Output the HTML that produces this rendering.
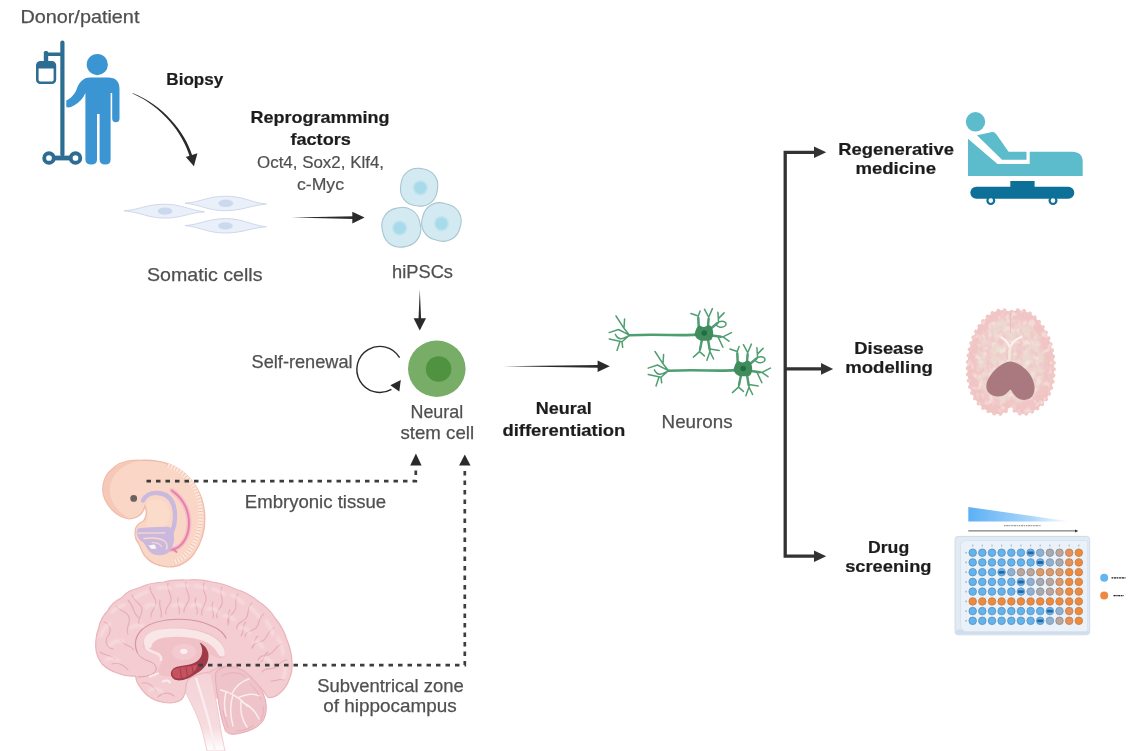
<!DOCTYPE html>
<html>
<head>
<meta charset="utf-8">
<title>hiPSC neural differentiation</title>
<style>
html,body{margin:0;padding:0;background:#fff;}
body{width:1140px;height:751px;overflow:hidden;font-family:"Liberation Sans",sans-serif;}
svg{display:block;}
svg text{font-family:"Liberation Sans",sans-serif;}
.t{fill:#505050;font-size:18.5px;stroke:#505050;stroke-width:0.25;}
.b{fill:#1e1e1e;font-size:17px;font-weight:bold;stroke:#1e1e1e;stroke-width:0.2;}
.s{fill:#505050;font-size:17px;stroke:#505050;stroke-width:0.2;}
.ln{stroke:#2a2a2a;stroke-width:2;fill:none;}
.dot{stroke:#3c3c3c;stroke-width:2.7;fill:none;stroke-dasharray:4.5 5;}
.ah{fill:#2a2a2a;}
</style>
</head>
<body>
<svg width="1140" height="751" viewBox="0 0 1140 751">
<defs>
  <filter id="b07" x="-20%" y="-20%" width="140%" height="140%"><feGaussianBlur stdDeviation="0.8"/></filter>
  <filter id="soft" filterUnits="userSpaceOnUse" x="0" y="0" width="1140" height="751"><feGaussianBlur stdDeviation="0.5"/></filter>
  <linearGradient id="gtri" x1="0" x2="1" y1="0" y2="0">
    <stop offset="0" stop-color="#5cb0f5"/><stop offset="0.6" stop-color="#a8d4fa"/><stop offset="1" stop-color="#ffffff"/>
  </linearGradient>
</defs>
<rect width="1140" height="751" fill="#ffffff"/>
<g id="all" filter="url(#soft)">

<!-- TEXT -->
<g id="labels">
<text class="t" x="20.4" y="23.4" textLength="119" lengthAdjust="spacingAndGlyphs">Donor/patient</text>
<text class="t" x="147" y="280.5" textLength="115.5" lengthAdjust="spacingAndGlyphs">Somatic cells</text>
<text class="t" x="392" y="278.2" textLength="61" lengthAdjust="spacingAndGlyphs">hiPSCs</text>
<text class="t" x="251.6" y="368" textLength="101" lengthAdjust="spacingAndGlyphs">Self-renewal</text>
<text class="t" x="410.5" y="418.3" textLength="52.7" lengthAdjust="spacingAndGlyphs">Neural</text>
<text class="t" x="400.4" y="438.5" textLength="73.7" lengthAdjust="spacingAndGlyphs">stem cell</text>
<text class="t" x="661.6" y="428.2" textLength="71" lengthAdjust="spacingAndGlyphs">Neurons</text>
<text class="t" x="244.8" y="507.7" textLength="141.4" lengthAdjust="spacingAndGlyphs">Embryonic tissue</text>
<text class="t" x="317.2" y="691.8" textLength="146.5" lengthAdjust="spacingAndGlyphs">Subventrical zone</text>
<text class="t" x="323.3" y="712" textLength="133.4" lengthAdjust="spacingAndGlyphs">of hippocampus</text>
<text class="s" x="257" y="168" textLength="127" lengthAdjust="spacingAndGlyphs">Oct4, Sox2, Klf4,</text>
<text class="s" x="297" y="189.5" textLength="47" lengthAdjust="spacingAndGlyphs">c-Myc</text>
<text class="b" x="166.3" y="85" textLength="57" lengthAdjust="spacingAndGlyphs">Biopsy</text>
<text class="b" x="250.5" y="123.4" textLength="139" lengthAdjust="spacingAndGlyphs">Reprogramming</text>
<text class="b" x="290.4" y="144.5" textLength="60.5" lengthAdjust="spacingAndGlyphs">factors</text>
<text class="b" x="535.8" y="414.2" textLength="56" lengthAdjust="spacingAndGlyphs">Neural</text>
<text class="b" x="502.4" y="436" textLength="123" lengthAdjust="spacingAndGlyphs">differentiation</text>
<text class="b" x="838.2" y="154.6" textLength="115.8" lengthAdjust="spacingAndGlyphs">Regenerative</text>
<text class="b" x="855.4" y="173.5" textLength="80.6" lengthAdjust="spacingAndGlyphs">medicine</text>
<text class="b" x="854.3" y="354.2" textLength="69.5" lengthAdjust="spacingAndGlyphs">Disease</text>
<text class="b" x="845.2" y="373" textLength="87.7" lengthAdjust="spacingAndGlyphs">modelling</text>
<text class="b" x="868" y="553.4" textLength="41.2" lengthAdjust="spacingAndGlyphs">Drug</text>
<text class="b" x="845.2" y="572" textLength="86.3" lengthAdjust="spacingAndGlyphs">screening</text>
</g>

<!-- IV POLE + PERSON -->
<g id="patient">
  <g fill="#2f6d92" stroke="none">
    <rect x="60.3" y="40.5" width="4.2" height="116" rx="2"/>
    <rect x="44" y="52.5" width="18" height="3.6" rx="1.5"/>
    <rect x="43.8" y="51" width="4.4" height="11" rx="1.6"/>
    <rect x="49" y="155.6" width="26" height="4.8"/>
  </g>
  <rect x="37.3" y="62.3" width="17.6" height="20.4" rx="3" fill="#ffffff" stroke="#2f6d92" stroke-width="2.6"/>
  <path d="M37.3 68.5 L37.3 65.3 Q37.3 62.3 40.3 62.3 L51.9 62.3 Q54.9 62.3 54.9 65.3 L54.9 68.5 Z" fill="#2f6d92"/>
  <circle cx="49" cy="158" r="4.8" fill="#ffffff" stroke="#2f6d92" stroke-width="3.9"/>
  <circle cx="75.5" cy="158" r="4.8" fill="#ffffff" stroke="#2f6d92" stroke-width="3.9"/>
  <g fill="#3a95d2">
    <circle cx="97.3" cy="64.6" r="10.6"/>
    <!-- torso + legs + right arm -->
    <path d="M90 77.5 L108 77.5 Q119.5 77.5 119.5 89 L119.5 118.5 Q119.5 122.3 115.8 122.3 Q112.2 122.3 112.2 118.5 L112.2 93 L110.6 93 L110.6 159.5 Q110.6 164.5 105.4 164.5 Q99.6 164.5 99.6 159.5 L99.6 114 L97 114 L97 159.5 Q97 164.5 91.2 164.5 Q85.4 164.5 85.4 159.5 L85.4 93 Q82 101 74 105.5 Q69 108.3 66.3 107 L66.3 100.5 Q72 98 76 91 Q80 77.5 90 77.5 Z"/>
  </g>
</g>

<!-- SOMATIC CELLS -->
<g id="somatic" fill="#eaf0f9" stroke="#cbd4e8" stroke-width="0.9">
  <path d="M124 210.800 C140 209.500 147 204.300 164 204.200 C181 204.100 189 210 204.500 211.800 C189 212.700 182 218 165 218.100 C148 218.200 141 212.300 124 210.800 Z"/>
  <path d="M185.100 203.200 C201 202 208 196.300 225.400 196.200 C243 196.100 251 202.500 266.400 204.100 C251 205.200 243 210.600 225.400 210.700 C208 210.800 201 204.800 185.100 203.200 Z"/>
  <path d="M185.100 225.600 C201 224.400 208 218.700 225.400 218.600 C243 218.500 251 225.200 266.400 226.800 C251 227.800 243 232.900 225.400 233 C208 233.100 201 227.200 185.100 225.600 Z"/>
  <g fill="#cbd9ef" stroke="none">
    <ellipse cx="165" cy="211.100" rx="7.400" ry="3.700"/>
    <ellipse cx="225.800" cy="203.300" rx="7.400" ry="3.700"/>
    <ellipse cx="225.400" cy="225.900" rx="7.400" ry="3.700"/>
  </g>
</g>

<!-- hiPSCs -->
<g id="hipsc">
  <g fill="#d3eaf2" stroke="#a8c6d0" stroke-width="1.1">
    <rect x="400.700" y="168.500" width="36.800" height="37.400" rx="16.500" transform="rotate(8 419.1 187.2)"/>
    <rect x="382.200" y="207.600" width="38.200" height="39.400" rx="17.500" transform="rotate(-12 401.3 227.3)"/>
    <rect x="422" y="203.200" width="38.800" height="37.600" rx="17" transform="rotate(15 441.4 222)"/>
  </g>
  <g fill="#a8dbe9">
    <circle cx="420.300" cy="187.800" r="7.600" opacity="0.45"/>
    <circle cx="399.600" cy="228" r="7.600" opacity="0.45"/>
    <circle cx="441.500" cy="223.600" r="7.600" opacity="0.45"/>
    <circle cx="420.300" cy="187.800" r="6.100"/>
    <circle cx="399.600" cy="228" r="6.100"/>
    <circle cx="441.500" cy="223.600" r="6.100"/>
  </g>
</g>

<!-- NEURAL STEM CELL -->
<g id="nsc">
  <ellipse cx="436.8" cy="368.7" rx="28.8" ry="28.2" fill="#78ad67"/>
  <circle cx="438.6" cy="369" r="12.8" fill="#4f9240"/>
  <path d="M399.6 357.6 A23 23 0 1 0 391.4 389.3" fill="none" stroke="#2a2a2a" stroke-width="1.4"/>
  <path class="ah" d="M400.8 380 L399.3 391.4 L390.3 385.2 Z"/>
</g>

<!-- NEURONS -->
<g id="neurons">
  <g id="neuron">
    <g fill="none" stroke="#4f9e72" stroke-linecap="round" stroke-linejoin="round">
      <path stroke-width="2.6" d="M696 334.6 C680 336.2 660 333.6 629.5 335.2"/>
      <g stroke-width="1.5">
        <!-- axon terminal -->
        <path d="M629.5 335.2 L624 328.3 L616 316 M624 328.3 L624.6 319 M629.5 335.2 L618.4 329.5 L609.2 332.6 M629.5 335.2 C622 340 618 340 615.4 334.4 M629.5 335.2 L622 341.8 L609.2 339 M620 341.5 L617 350.4 M622 341.8 L622.7 347.3"/>
        <!-- dendrite roots (thicker) -->
        <path stroke-width="2.4" d="M698.8 327.500 L698.3 318 M708 326.500 L708.600 319 M711.500 328 L717.500 323 M712 335.500 L721 336.700 M702 339.500 L700 349.500 M708 339.500 L709.700 349.500"/>
        <!-- dendrites -->
        <path d="M698.5 326.5 L698.3 316 L690.9 313.5 M698.3 316 L700.1 311"/>
        <path d="M708.1 325.5 L708.7 317.2 L704.4 309.2 M708.7 317.2 L712.4 308.6"/>
        <path d="M712 327.5 L718.6 322.1 L717.9 312.3 M718.6 318.4 L724.1 312.9 M718.6 322.1 C724 320 728 323 725 326 C722 328.5 718 327 716 325"/>
        <path d="M712.5 335.6 L722.9 336.9 L731.4 332.6 M722.9 336.9 L729 341.2 M717.9 336.6 L722.9 347.3"/>
        <path d="M702 340 L699.5 351.6 L693.4 357.1 M699.5 351.6 L704.4 355.9"/>
        <path d="M708.1 340 L710 351.6 L706.9 360.2 M710 351.6 L713.6 359 M710 349.1 L719.2 350.4"/>
      </g>
    </g>
    <path d="M694.5 334.5 C696 329 697 325.5 700 325.5 C702 327.5 705 327.5 708 325 C711 325 712.5 328 713 331 C713.5 334 713 337 711.5 339.5 C709 341.5 706 340.5 703.5 340.8 C700 341 696 339 694.5 334.5 Z" fill="#3f8c5c"/>
    <circle cx="704.2" cy="333" r="2.8" fill="#1f7040"/>
  </g>
  <use href="#neuron" x="39" y="35.5"/>
</g>

<!-- BED -->
<g id="bed">
  <circle cx="975.5" cy="121.8" r="9.7" fill="#5cbccb"/>
  <path fill="#5cbccb" d="M968 138.7 L997.5 164 L1029.7 164 L1029.7 151.7 L1072 151.7 Q1082.7 151.7 1082.7 162 L1082.7 176 L968 176 Z"/>
  <path fill="#5cbccb" d="M977 135.2 L991 132.2 Q994.5 131.5 996.5 134.5 L1008.6 151.7 L1026.5 151.7 L1026.5 159.8 L1002 159.8 Z"/>
  <rect x="970.3" y="186.8" width="104" height="12" rx="6" fill="#0f6f98"/>
  <rect x="1010.3" y="181" width="24.3" height="8" fill="#0f6f98"/>
  <circle cx="990.8" cy="200.6" r="3.4" fill="#ffffff" stroke="#0f6f98" stroke-width="2.2"/>
  <circle cx="1053" cy="200.6" r="3.4" fill="#ffffff" stroke="#0f6f98" stroke-width="2.2"/>
</g>

<!-- AXIAL BRAIN -->
<g id="axial">
  <defs>
    <clipPath id="axclip"><path d="M1010.5 312.5 C1006 309 998 309.5 991.5 313.5 C981 320.5 973 334 969.7 348.5 C966.3 362.5 966.8 378 971 390.5 C975 401.5 982.5 409.5 992 413 C999 415.5 1008.5 414 1010.5 402.5 C1012.5 414 1022 415.5 1029 413 C1038.500 409.5 1046.500 401.5 1050.500 390.5 C1054.700 378 1055.200 362.5 1051.800 348.5 C1048.500 334 1040.500 320.5 1030 313.5 C1023.500 309.5 1015 309 1010.5 312.5 Z" /></clipPath>
    <filter id="mottle" x="0" y="0" width="100%" height="100%">
      <feTurbulence type="fractalNoise" baseFrequency="0.13 0.11" numOctaves="2" seed="11" result="n"/>
      <feColorMatrix in="n" type="matrix" values="0 0 0 0 0.89  0 0 0 0 0.56  0 0 0 0 0.58  5 0 0 0 -2.1"/>
      <feGaussianBlur stdDeviation="0.7"/>
    </filter>
    <filter id="mottle2" x="0" y="0" width="100%" height="100%">
      <feTurbulence type="fractalNoise" baseFrequency="0.17 0.15" numOctaves="2" seed="23" result="n"/>
      <feColorMatrix in="n" type="matrix" values="0 0 0 0 0.95  0 0 0 0 0.87  0 0 0 0 0.83  0 4 0 0 -2.05"/>
      <feGaussianBlur stdDeviation="0.6"/>
    </filter>
    <filter id="b1"><feGaussianBlur stdDeviation="1.6"/></filter>
  </defs>
  <path d="M1010.5 312.5 C1006 309 998 309.5 991.5 313.5 C981 320.5 973 334 969.7 348.5 C966.3 362.5 966.8 378 971 390.5 C975 401.5 982.5 409.5 992 413 C999 415.5 1008.5 414 1010.5 402.5 C1012.5 414 1022 415.5 1029 413 C1038.500 409.5 1046.500 401.5 1050.500 390.5 C1054.700 378 1055.200 362.5 1051.800 348.5 C1048.500 334 1040.500 320.5 1030 313.5 C1023.500 309.5 1015 309 1010.5 312.5 Z" fill="#efc5c2" stroke="#f0c8c5" stroke-width="3.8" stroke-dasharray="0.1 6.2" stroke-linecap="round"/>
  <g clip-path="url(#axclip)">
    <path d="M1010.5 321 C1005 317 998 319 992.500 324 C984 332 979 343 977.500 355 C975.500 367 977 379 981.500 388 C985 395 990 401 996 403 C1002 404.500 1007 402 1010.5 397 C1014 402 1019 404.500 1025 403 C1031 401 1036 395 1039.500 388 C1044 379 1045.500 367 1043.500 355 C1042 343 1037 332 1028.500 324 C1023 319 1016 317 1010.5 321 Z" fill="#ecd8cf" filter="url(#b1)"/>
    <rect x="960" y="300" width="100" height="120" filter="url(#mottle)" opacity="0.8"/>
    <rect x="960" y="300" width="100" height="120" filter="url(#mottle2)" opacity="0.5"/>
  </g>
  <path d="M1010.5 313 L1010.5 333" stroke="#e8b3b3" stroke-width="1" opacity="0.6"/>
  <path d="M1001.5 337.5 C1005 339.500 1008.5 343.5 1010 348 C1011.5 343.5 1016 339 1021.5 336.800" fill="none" stroke="#fcf1ee" stroke-width="2.300" stroke-linecap="round"/>
  <path d="M1010 347 C1009 352 1009.5 356 1009.300 360.500" fill="none" stroke="#f8e6e2" stroke-width="2.200" stroke-linecap="round"/>
  <path d="M1006.500 349 C1006.800 353 1007 357 1008 360 M1013 349 C1012.700 353 1012.500 357 1011.500 360" fill="none" stroke="#eec0bd" stroke-width="0.800"/>
  <path d="M1010 361.600 C1003 362.500 996 368 990.800 375 C985.800 381.500 985 388.500 988.500 392.500 C993 397.500 1002 397.600 1006.500 393.500 C1008.500 391.500 1009.500 390 1010.5 389.500 C1012 391 1014 395.500 1018 398.300 C1023 401.200 1030 400.200 1033 395 C1036 389.500 1034.500 381 1030 374.500 C1025 367.500 1017.500 362.300 1010 361.600 Z" fill="#a9797f"/>
</g>

<!-- WELL PLATE -->
<g id="plate">
  <path d="M968.3 507 L968.3 521.5 L1070.6 521.5 Z" fill="url(#gtri)"/>
  <path d="M1004 525.7 L1041 525.7" stroke="#555" stroke-width="0.9" stroke-dasharray="1.6 0.7 2.4 0.6 1.2 0.8" opacity="0.8"/>
  <path d="M968.3 530.9 L1076 530.9" stroke="#333" stroke-width="0.8"/>
  <path d="M1075 529.4 L1078.3 530.9 L1075 532.4 Z" fill="#333"/>
  <rect x="955.1" y="536.4" width="134.6" height="98.4" rx="3" fill="#e2ebf4" stroke="#cddbe9" stroke-width="1"/>
  <rect x="956" y="629.5" width="132.8" height="4.6" rx="2" fill="#d0deec"/>
  <path d="M964.5 540.5 L1086 540.5 Q1087.6 540.5 1087.6 542 L1087.6 630 Q1087.6 631.6 1086 631.6 L964.5 631.6 L960.5 627.5 L960.5 544.5 Z" fill="#eaf1f8" stroke="#d3dfec" stroke-width="0.8"/>
  <g id="wells"><rect x="972.1" y="544.6" width="1.2" height="1.8" fill="#8aa0b8" opacity="0.7"/><rect x="981.7" y="544.6" width="1.2" height="1.8" fill="#8aa0b8" opacity="0.7"/><rect x="991.4" y="544.6" width="1.2" height="1.8" fill="#8aa0b8" opacity="0.7"/><rect x="1001.0" y="544.6" width="1.2" height="1.8" fill="#8aa0b8" opacity="0.7"/><rect x="1010.7" y="544.6" width="1.2" height="1.8" fill="#8aa0b8" opacity="0.7"/><rect x="1020.3" y="544.6" width="1.2" height="1.8" fill="#8aa0b8" opacity="0.7"/><rect x="1030.0" y="544.6" width="1.2" height="1.8" fill="#8aa0b8" opacity="0.7"/><rect x="1039.6" y="544.6" width="1.2" height="1.8" fill="#8aa0b8" opacity="0.7"/><rect x="1049.3" y="544.6" width="1.2" height="1.8" fill="#8aa0b8" opacity="0.7"/><rect x="1058.9" y="544.6" width="1.2" height="1.8" fill="#8aa0b8" opacity="0.7"/><rect x="1068.6" y="544.6" width="1.2" height="1.8" fill="#8aa0b8" opacity="0.7"/><rect x="1078.2" y="544.6" width="1.2" height="1.8" fill="#8aa0b8" opacity="0.7"/><rect x="965.2" y="551.9" width="1.6" height="1.6" fill="#8aa0b8" opacity="0.7"/><rect x="965.2" y="561.6" width="1.6" height="1.6" fill="#8aa0b8" opacity="0.7"/><rect x="965.2" y="571.4" width="1.6" height="1.6" fill="#8aa0b8" opacity="0.7"/><rect x="965.2" y="581.1" width="1.6" height="1.6" fill="#8aa0b8" opacity="0.7"/><rect x="965.2" y="590.8" width="1.6" height="1.6" fill="#8aa0b8" opacity="0.7"/><rect x="965.2" y="600.6" width="1.6" height="1.6" fill="#8aa0b8" opacity="0.7"/><rect x="965.2" y="610.3" width="1.6" height="1.6" fill="#8aa0b8" opacity="0.7"/><rect x="965.2" y="620.0" width="1.6" height="1.6" fill="#8aa0b8" opacity="0.7"/><circle cx="972.7" cy="552.7" r="3.75" fill="#62b4ee" stroke="#5f93c0" stroke-width="0.9"/><circle cx="982.3" cy="552.7" r="3.75" fill="#62b4ee" stroke="#5f93c0" stroke-width="0.9"/><circle cx="992.0" cy="552.7" r="3.75" fill="#62b4ee" stroke="#5f93c0" stroke-width="0.9"/><circle cx="1001.6" cy="552.7" r="3.75" fill="#62b4ee" stroke="#5f93c0" stroke-width="0.9"/><circle cx="1011.3" cy="552.7" r="3.75" fill="#62b4ee" stroke="#5f93c0" stroke-width="0.9"/><circle cx="1020.9" cy="552.7" r="3.75" fill="#62b4ee" stroke="#5f93c0" stroke-width="0.9"/><circle cx="1030.6" cy="552.7" r="3.75" fill="#62b4ee" stroke="#5f93c0" stroke-width="0.9"/><rect x="1027.6" y="551.4" width="6" height="2.8" rx="1" fill="#1d5a9a" opacity="0.85"/><circle cx="1040.2" cy="552.7" r="3.75" fill="#8fb1d2" stroke="#7f98b5" stroke-width="0.9"/><circle cx="1049.9" cy="552.7" r="3.75" fill="#a9abb2" stroke="#8d8f99" stroke-width="0.9"/><circle cx="1059.5" cy="552.7" r="3.75" fill="#c0a698" stroke="#8d8f99" stroke-width="0.9"/><circle cx="1069.2" cy="552.7" r="3.75" fill="#e8905a" stroke="#c0814f" stroke-width="0.9"/><circle cx="1078.8" cy="552.7" r="3.75" fill="#ef8a3c" stroke="#c0814f" stroke-width="0.9"/><circle cx="972.7" cy="562.4" r="3.75" fill="#62b4ee" stroke="#5f93c0" stroke-width="0.9"/><circle cx="982.3" cy="562.4" r="3.75" fill="#62b4ee" stroke="#5f93c0" stroke-width="0.9"/><circle cx="992.0" cy="562.4" r="3.75" fill="#62b4ee" stroke="#5f93c0" stroke-width="0.9"/><circle cx="1001.6" cy="562.4" r="3.75" fill="#62b4ee" stroke="#5f93c0" stroke-width="0.9"/><circle cx="1011.3" cy="562.4" r="3.75" fill="#62b4ee" stroke="#5f93c0" stroke-width="0.9"/><circle cx="1020.9" cy="562.4" r="3.75" fill="#62b4ee" stroke="#5f93c0" stroke-width="0.9"/><circle cx="1030.6" cy="562.4" r="3.75" fill="#62b4ee" stroke="#5f93c0" stroke-width="0.9"/><circle cx="1040.2" cy="562.4" r="3.75" fill="#62b4ee" stroke="#5f93c0" stroke-width="0.9"/><rect x="1037.2" y="561.1" width="6" height="2.8" rx="1" fill="#1d5a9a" opacity="0.85"/><circle cx="1049.9" cy="562.4" r="3.75" fill="#8fb1d2" stroke="#7f98b5" stroke-width="0.9"/><circle cx="1059.5" cy="562.4" r="3.75" fill="#a9abb2" stroke="#8d8f99" stroke-width="0.9"/><circle cx="1069.2" cy="562.4" r="3.75" fill="#e8905a" stroke="#c0814f" stroke-width="0.9"/><circle cx="1078.8" cy="562.4" r="3.75" fill="#ef8a3c" stroke="#c0814f" stroke-width="0.9"/><circle cx="972.7" cy="572.2" r="3.75" fill="#62b4ee" stroke="#5f93c0" stroke-width="0.9"/><circle cx="982.3" cy="572.2" r="3.75" fill="#62b4ee" stroke="#5f93c0" stroke-width="0.9"/><circle cx="992.0" cy="572.2" r="3.75" fill="#62b4ee" stroke="#5f93c0" stroke-width="0.9"/><circle cx="1001.6" cy="572.2" r="3.75" fill="#62b4ee" stroke="#5f93c0" stroke-width="0.9"/><rect x="998.6" y="570.9" width="6" height="2.8" rx="1" fill="#1d5a9a" opacity="0.85"/><circle cx="1011.3" cy="572.2" r="3.75" fill="#8fb1d2" stroke="#7f98b5" stroke-width="0.9"/><circle cx="1020.9" cy="572.2" r="3.75" fill="#c0a698" stroke="#8d8f99" stroke-width="0.9"/><circle cx="1030.6" cy="572.2" r="3.75" fill="#c0a698" stroke="#8d8f99" stroke-width="0.9"/><circle cx="1040.2" cy="572.2" r="3.75" fill="#d99b72" stroke="#c0814f" stroke-width="0.9"/><circle cx="1049.9" cy="572.2" r="3.75" fill="#d99b72" stroke="#c0814f" stroke-width="0.9"/><circle cx="1059.5" cy="572.2" r="3.75" fill="#d99b72" stroke="#c0814f" stroke-width="0.9"/><circle cx="1069.2" cy="572.2" r="3.75" fill="#ef8a3c" stroke="#c0814f" stroke-width="0.9"/><circle cx="1078.8" cy="572.2" r="3.75" fill="#ef8a3c" stroke="#c0814f" stroke-width="0.9"/><circle cx="972.7" cy="581.9" r="3.75" fill="#62b4ee" stroke="#5f93c0" stroke-width="0.9"/><circle cx="982.3" cy="581.9" r="3.75" fill="#62b4ee" stroke="#5f93c0" stroke-width="0.9"/><circle cx="992.0" cy="581.9" r="3.75" fill="#62b4ee" stroke="#5f93c0" stroke-width="0.9"/><circle cx="1001.6" cy="581.9" r="3.75" fill="#62b4ee" stroke="#5f93c0" stroke-width="0.9"/><circle cx="1011.3" cy="581.9" r="3.75" fill="#62b4ee" stroke="#5f93c0" stroke-width="0.9"/><circle cx="1020.9" cy="581.9" r="3.75" fill="#62b4ee" stroke="#5f93c0" stroke-width="0.9"/><rect x="1017.9" y="580.6" width="6" height="2.8" rx="1" fill="#1d5a9a" opacity="0.85"/><circle cx="1030.6" cy="581.9" r="3.75" fill="#8fb1d2" stroke="#7f98b5" stroke-width="0.9"/><circle cx="1040.2" cy="581.9" r="3.75" fill="#a9abb2" stroke="#8d8f99" stroke-width="0.9"/><circle cx="1049.9" cy="581.9" r="3.75" fill="#c0a698" stroke="#8d8f99" stroke-width="0.9"/><circle cx="1059.5" cy="581.9" r="3.75" fill="#d99b72" stroke="#c0814f" stroke-width="0.9"/><circle cx="1069.2" cy="581.9" r="3.75" fill="#ef8a3c" stroke="#c0814f" stroke-width="0.9"/><circle cx="1078.8" cy="581.9" r="3.75" fill="#ef8a3c" stroke="#c0814f" stroke-width="0.9"/><circle cx="972.7" cy="591.6" r="3.75" fill="#62b4ee" stroke="#5f93c0" stroke-width="0.9"/><circle cx="982.3" cy="591.6" r="3.75" fill="#62b4ee" stroke="#5f93c0" stroke-width="0.9"/><circle cx="992.0" cy="591.6" r="3.75" fill="#62b4ee" stroke="#5f93c0" stroke-width="0.9"/><circle cx="1001.6" cy="591.6" r="3.75" fill="#62b4ee" stroke="#5f93c0" stroke-width="0.9"/><circle cx="1011.3" cy="591.6" r="3.75" fill="#62b4ee" stroke="#5f93c0" stroke-width="0.9"/><circle cx="1020.9" cy="591.6" r="3.75" fill="#62b4ee" stroke="#5f93c0" stroke-width="0.9"/><rect x="1017.9" y="590.3" width="6" height="2.8" rx="1" fill="#1d5a9a" opacity="0.85"/><circle cx="1030.6" cy="591.6" r="3.75" fill="#8fb1d2" stroke="#7f98b5" stroke-width="0.9"/><circle cx="1040.2" cy="591.6" r="3.75" fill="#a9abb2" stroke="#8d8f99" stroke-width="0.9"/><circle cx="1049.9" cy="591.6" r="3.75" fill="#c0a698" stroke="#8d8f99" stroke-width="0.9"/><circle cx="1059.5" cy="591.6" r="3.75" fill="#d99b72" stroke="#c0814f" stroke-width="0.9"/><circle cx="1069.2" cy="591.6" r="3.75" fill="#ef8a3c" stroke="#c0814f" stroke-width="0.9"/><circle cx="1078.8" cy="591.6" r="3.75" fill="#ef8a3c" stroke="#c0814f" stroke-width="0.9"/><circle cx="972.7" cy="601.4" r="3.75" fill="#ef8a3c" stroke="#c0814f" stroke-width="0.9"/><circle cx="982.3" cy="601.4" r="3.75" fill="#ef8a3c" stroke="#c0814f" stroke-width="0.9"/><circle cx="992.0" cy="601.4" r="3.75" fill="#ef8a3c" stroke="#c0814f" stroke-width="0.9"/><circle cx="1001.6" cy="601.4" r="3.75" fill="#ef8a3c" stroke="#c0814f" stroke-width="0.9"/><circle cx="1011.3" cy="601.4" r="3.75" fill="#ef8a3c" stroke="#c0814f" stroke-width="0.9"/><circle cx="1020.9" cy="601.4" r="3.75" fill="#ef8a3c" stroke="#c0814f" stroke-width="0.9"/><circle cx="1030.6" cy="601.4" r="3.75" fill="#ef8a3c" stroke="#c0814f" stroke-width="0.9"/><circle cx="1040.2" cy="601.4" r="3.75" fill="#ef8a3c" stroke="#c0814f" stroke-width="0.9"/><circle cx="1049.9" cy="601.4" r="3.75" fill="#ef8a3c" stroke="#c0814f" stroke-width="0.9"/><circle cx="1059.5" cy="601.4" r="3.75" fill="#ef8a3c" stroke="#c0814f" stroke-width="0.9"/><circle cx="1069.2" cy="601.4" r="3.75" fill="#ef8a3c" stroke="#c0814f" stroke-width="0.9"/><circle cx="1078.8" cy="601.4" r="3.75" fill="#ef8a3c" stroke="#c0814f" stroke-width="0.9"/><circle cx="972.7" cy="611.1" r="3.75" fill="#62b4ee" stroke="#5f93c0" stroke-width="0.9"/><circle cx="982.3" cy="611.1" r="3.75" fill="#62b4ee" stroke="#5f93c0" stroke-width="0.9"/><circle cx="992.0" cy="611.1" r="3.75" fill="#62b4ee" stroke="#5f93c0" stroke-width="0.9"/><circle cx="1001.6" cy="611.1" r="3.75" fill="#62b4ee" stroke="#5f93c0" stroke-width="0.9"/><circle cx="1011.3" cy="611.1" r="3.75" fill="#62b4ee" stroke="#5f93c0" stroke-width="0.9"/><circle cx="1020.9" cy="611.1" r="3.75" fill="#62b4ee" stroke="#5f93c0" stroke-width="0.9"/><circle cx="1030.6" cy="611.1" r="3.75" fill="#62b4ee" stroke="#5f93c0" stroke-width="0.9"/><circle cx="1040.2" cy="611.1" r="3.75" fill="#62b4ee" stroke="#5f93c0" stroke-width="0.9"/><circle cx="1049.9" cy="611.1" r="3.75" fill="#62b4ee" stroke="#5f93c0" stroke-width="0.9"/><rect x="1046.9" y="609.8" width="6" height="2.8" rx="1" fill="#1d5a9a" opacity="0.85"/><circle cx="1059.5" cy="611.1" r="3.75" fill="#8fb1d2" stroke="#7f98b5" stroke-width="0.9"/><circle cx="1069.2" cy="611.1" r="3.75" fill="#e8905a" stroke="#c0814f" stroke-width="0.9"/><circle cx="1078.8" cy="611.1" r="3.75" fill="#ef8a3c" stroke="#c0814f" stroke-width="0.9"/><circle cx="972.7" cy="620.8" r="3.75" fill="#62b4ee" stroke="#5f93c0" stroke-width="0.9"/><circle cx="982.3" cy="620.8" r="3.75" fill="#62b4ee" stroke="#5f93c0" stroke-width="0.9"/><circle cx="992.0" cy="620.8" r="3.75" fill="#62b4ee" stroke="#5f93c0" stroke-width="0.9"/><circle cx="1001.6" cy="620.8" r="3.75" fill="#62b4ee" stroke="#5f93c0" stroke-width="0.9"/><circle cx="1011.3" cy="620.8" r="3.75" fill="#62b4ee" stroke="#5f93c0" stroke-width="0.9"/><circle cx="1020.9" cy="620.8" r="3.75" fill="#62b4ee" stroke="#5f93c0" stroke-width="0.9"/><circle cx="1030.6" cy="620.8" r="3.75" fill="#62b4ee" stroke="#5f93c0" stroke-width="0.9"/><circle cx="1040.2" cy="620.8" r="3.75" fill="#62b4ee" stroke="#5f93c0" stroke-width="0.9"/><rect x="1037.2" y="619.5" width="6" height="2.8" rx="1" fill="#1d5a9a" opacity="0.85"/><circle cx="1049.9" cy="620.8" r="3.75" fill="#8fb1d2" stroke="#7f98b5" stroke-width="0.9"/><circle cx="1059.5" cy="620.8" r="3.75" fill="#c0a698" stroke="#8d8f99" stroke-width="0.9"/><circle cx="1069.2" cy="620.8" r="3.75" fill="#e8905a" stroke="#c0814f" stroke-width="0.9"/><circle cx="1078.8" cy="620.8" r="3.75" fill="#ef8a3c" stroke="#c0814f" stroke-width="0.9"/></g>
  <circle cx="1104.2" cy="577.8" r="4" fill="#63b5ef"/>
  <circle cx="1104.2" cy="595.4" r="4" fill="#ee8a3f"/>
  <path d="M1111.5 577.8 L1125.5 577.8" stroke="#222" stroke-width="1.3" stroke-dasharray="1.8 0.6 2.6 0.5 1.4 0.7"/>
  <path d="M1113.5 595.6 L1123.5 595.6" stroke="#222" stroke-width="1.3" stroke-dasharray="2.2 0.6 1.4 0.5"/>
</g>

<!-- EMBRYO -->
<g id="embryo">
  <path d="M140 460.300 C128 459.500 116.500 463.500 109 472 C102.500 480 101 490.500 105 499.500 C108.500 507 114 513 121 516.500 C126 519 132.500 519.500 137.500 516.800 C141.500 514.500 144 510 145 506 C147 511 146.500 517 143.500 521 C139.500 523 136 525 135.300 529.500 C134.600 534.500 135.500 540 138.500 543 C140.500 547.500 142 552 144.500 555.500 C149.500 562 158 566 167 566.800 C178 567.500 188 562 194.500 553 C201 543.500 204.800 532 204.800 519.500 C204.800 505 200.500 491.500 192 481 C183.500 470.500 171.500 463.500 158.500 461.300 C152.500 460.300 146 460.100 140 460.300 Z" fill="#f9d6c5" stroke="#f0bba9" stroke-width="1.3"/>
  <!-- darker rim of head -->
  <path d="M140 461 C128 460.200 117 464 109.700 472.500 C103.300 480.300 101.800 490.500 105.700 499.300 C109 506.500 114.500 512.500 121.300 515.800 C123.500 516.900 126 517.500 128.500 517.700 C119 512.500 112.500 505 110.500 496 C108.500 486.500 111.500 477 118.500 470.500 C125 464.500 133 462 140 461 Z" fill="#f3c3b2" opacity="0.75"/>
  <!-- somite band -->
  <path d="M167 464.800 C180.500 469.500 191 480 196.800 493 C201.800 505.500 202 522 197.500 535.500 C193 548.500 184.500 558.500 173 562.800" fill="none" stroke="#fce5d9" stroke-width="4.600"/>
  <path d="M167 464.800 C180.500 469.500 191 480 196.800 493 C201.800 505.500 202 522 197.500 535.500 C193 548.500 184.500 558.500 173 562.800" fill="none" stroke="#eeb9a7" stroke-width="4.400" stroke-dasharray="0.700 2.500"/>
  <!-- pink stripe -->
  <path d="M171.800 490.500 C181 497 187.500 507 188.800 519 C190 531 186 541.500 178.500 547 C174 550 168 550.500 162 550" fill="none" stroke="#f5bccb" stroke-width="4.800" stroke-linecap="round"/>
  <path d="M171.800 490.500 C181 497 187.500 507 188.800 519 C190 531 186 541.500 178.500 547 C174 550 168 550.500 162 550 M173.500 549.500 L176.500 552" fill="none" stroke="#e87fa6" stroke-width="1.900" stroke-linecap="round"/>
  <!-- purple structures -->
  <path d="M138 528.500 C146 527.500 158 527 168.500 526.800 C173 528.500 174.500 534 174 540 C173.500 546 171 551.500 166 554 C160.500 556.500 153.500 555.500 149.500 551.500 C146.500 548.500 145.500 545 143.500 542.500 C140 540.500 137 537 136.800 533 C136.700 531 137.200 529.500 138 528.500 Z" fill="#cbb8de"/>
  <path d="M143 500.500 C146 495 152 492.500 158 493 C165 493.500 171 497.500 173.500 505 C176 513 175.500 524 172 531.500" fill="none" stroke="#cbb8de" stroke-width="4.400" stroke-linecap="round"/>
  <g fill="none" stroke="#f9d9ca" stroke-linecap="round">
    <path stroke-width="1.300" d="M138 533.200 L165 532.800"/>
    <path stroke-width="1.500" d="M144 538.500 C152 537.500 160 538 164.500 541 C167 543 167.500 546 166.500 549"/>
    <path stroke-width="1.200" d="M152 542.500 C156 542.500 160 543.500 161.500 546.500"/>
  </g>
  <!-- heart bulge -->
  <path d="M147.500 503 C150 499.500 153 499 156 500 C158 498.500 161 499.500 163 501.500 C166 503 168.500 506.500 168.500 510 C170 513 170 517 168 520 C168 523 166.500 525.500 164.500 526.500 L146.300 527 C146.300 521.500 148.500 517 148 512.500 C147.700 509 146.500 506 147.500 503 Z" fill="#fbdbca"/>
  <path d="M148.500 545.500 L154.500 544.500 L156.500 548.500 L151.500 549 Z" fill="#fef6f2"/>
  <circle cx="133.700" cy="498.400" r="3.400" fill="#6b625f"/>
</g>

<!-- SAGITTAL BRAIN -->
<g id="sagittal">
  <defs>
    <linearGradient id="stemfade" x1="0" x2="0" y1="0" y2="1">
      <stop offset="0" stop-color="#f4d3d7"/><stop offset="0.7" stop-color="#f6dcdf"/><stop offset="1" stop-color="#ffffff"/>
    </linearGradient>
  </defs>
  <path d="M205 668 L228 664 L232 690 L214 700 Z" fill="#f1c9cf"/>
  <!-- brainstem -->
  <path d="M183 680 C188 676 200 673 211 673.500 C214 688 217 706 220 724 C221.500 734 223 742 225 751 L207 751 C205 742 203 733 200 724 C196 712 190 702 186.500 694 C184 688 182.500 684 183 680 Z" fill="url(#stemfade)" stroke="#eec3c9" stroke-width="0.8"/>
  <path d="M196 678 C201 694 207 712 211 730 C212.500 738 214 745 215 751" fill="none" stroke="#fbeef0" stroke-width="2.2"/>
  <!-- cerebellum -->
  <path d="M216 672 C222 666 232 664.500 240 668 C250 672.500 258 682 263 693 C267 702 267.500 712 263.500 720 C259 727.500 250 731 241 733 C235 734.500 229 735.500 225.500 731 C222 722 220 712 218.500 702 C217 692 214.500 680 216 672 Z" fill="#efc3ca" stroke="#e6aab4" stroke-width="1"/>
  <g fill="none" stroke="#fbecee" stroke-linecap="round" stroke-width="1.5">
    <path d="M220.500 690 C230 692 240 698 247 706 M232 693.500 C236 686 242 681 249 679 M238 698 C246 694 254 693.500 260 696 M243 702.500 C250 706 256 712 259 719 M241 701 C240 710 242 720 247 727 M233 695 C230 704 230 715 233 726 M226 692 C224 700 224 708 226 716"/>
  </g>
  <g fill="none" stroke="#e4a3ae" stroke-width="0.7" opacity="0.9">
    <path d="M222 676 C230 671 240 672 246 677 M250 684 C255 688 259 694 261 700 M263 706 C264 712 263 717 260 721 M254 725 C249 729 242 731 236 731 M228 728 C226 722 224 716 223 710"/>
  </g>
  <!-- cerebrum -->
  <path d="M95.700 647 C95.500 640 96.500 634 98.500 628.500 C100 620 104 614.500 108 610.500 C111 603.500 117 600 122 597.500 C126 591.500 133 589.500 140 587.500 C147 583.500 156 582.500 164 582 C172 579.500 180 580 188.500 580 C196 579 205 580.500 212.500 582 C221 583 229 586 236.500 589.500 C245 591.500 252 596 258.500 601.500 C265 605.500 271 611.500 275 618 C280 624 284.500 632 287 640 C290 647 291.500 654 292 661.500 C292.500 668 291.500 674 289.500 678.500 C287.500 685 284 689.500 280 693 C276 696.500 272 698 268 697.500 C265 693 262 689 258.500 685.500 C254 680 249 674.500 244 671 C238 667.500 231 666 224.500 666.500 C219 667 214 669 210 672 C204 672.500 197 674.500 192 677 C188 679 186 682 186 686 C186 692 184 697 181 700 C176 703 170 703.500 164 702.500 C158 701.500 152 699 147.500 695.500 C143 692 140 687 137.500 683 C136 680 136 677.500 135.500 676 C129 676.500 123 675.500 118.500 673.500 C112 671.500 106 668 102 664 C98 659 96 653 95.700 647 Z" fill="#f3cdd1" stroke="#eab4bc" stroke-width="1.2"/>
  <!-- gyri -->
  <g fill="none" stroke="#e7adb6" stroke-width="1.1" stroke-linecap="round" stroke-linejoin="round">
    <path d="M104 622 C110 624 112 631 108 636 C104 641 107 648 113 649 M100 652 C106 656 112 655 116 660 M116 606 C120 612 127 611 129 617 C131 623 125 628 128 634 M132 595 C134 602 141 603 142 609 C143 615 137 618 139 624 M150 587 C150 594 156 597 156 603 C156 609 150 611 151 617"/>
    <path d="M168 583 C166 590 172 594 171 600 C170 606 164 608 166 614 M186 582 C184 589 190 593 189 599 C188 605 183 607 184 612 M204 583 C201 590 207 594 206 600 C205 606 200 609 202 615 M222 587 C218 593 224 598 222 604 C220 610 215 612 217 618"/>
    <path d="M238 594 C233 599 238 605 235 610 C232 616 226 617 228 623 M252 603 C246 607 250 614 246 618 C242 623 236 623 237 629 M264 614 C258 617 260 624 256 628 C251 632 245 631 245 637 M274 628 C268 630 268 637 264 640 C259 644 253 642 252 648 M282 644 C276 645 275 652 270 654 C265 657 260 654 258 660"/>
    <path d="M287 660 C281 660 279 666 274 668 C269 670 265 667 262 672 M284 680 C279 678 275 682 271 681 M120 640 C124 646 131 645 134 650 M112 664 C118 662 124 665 128 670 M142 683 C148 682 153 686 156 691 M158 697 C163 692 170 692 174 696"/>
    <path d="M128 600 C134 606 133 614 139 618 M160 600 C158 606 163 611 161 617 M178 598 C176 604 181 608 179 614 M196 598 C193 604 199 608 197 614 M213 602 C210 608 215 612 213 618 M230 610 C226 615 231 620 228 625 M246 622 C241 626 245 632 241 636 M258 636 C253 639 256 645 252 648 M268 652 C263 654 265 660 261 662"/>
  </g>
  <g fill="none" stroke="#fae4e6" stroke-width="3.2" stroke-linecap="round" opacity="0.6" filter="url(#b07)">
    <path d="M101 636 C103 630 106 626 110 624 M112 612 C116 608 120 606 124 605 M135 598 C139 595 143 593 147 592 M158 588 C162 587 166 587 170 588 M176 586 C180 585 184 585 188 586 M195 586 C199 586 203 587 206 588 M213 589 C217 590 221 592 224 594 M232 595 C236 597 240 600 243 603 M250 607 C254 610 257 614 259 617 M266 621 C269 625 272 630 273 634 M278 638 C281 643 283 649 283 654 M285 664 C286 669 285 674 283 678"/>
    <path d="M110 645 C114 641 119 640 123 642 M131 628 C135 625 140 625 144 627 M146 607 C149 604 153 604 156 606 M173 606 C176 604 180 604 183 606 M191 606 C194 604 198 604 201 606 M208 609 C212 608 216 609 218 612 M224 616 C228 615 232 617 234 620 M240 628 C244 627 248 629 249 633 M254 642 C258 641 262 644 262 648 M264 658 C268 658 271 661 271 665 M106 660 C110 657 115 658 118 661 M150 690 C154 688 159 689 162 692"/>
  </g>
  <!-- cingulate sulcus -->
  <path d="M137 652 C134 644 136 636 141 630.500 C148 623.500 160 620.500 172 619.500 C187 618.500 203 621 215 627.500 C220 630 224 634 226 638" fill="none" stroke="#d893a0" stroke-width="1.2" stroke-linecap="round"/>
  <path d="M137 652 C139 658 146 660 151 662 C156 664 158 669 154 673 C150 676 144 677 138 677" fill="none" stroke="#dfa0ab" stroke-width="1" stroke-linecap="round"/>
  <!-- inner medial region -->
  <path d="M143 648 C142 640 147 634 155 631 C165 627.500 178 627 190 628.500 C203 630 215 634.500 221 642 C225 647.500 226 653 224 657 C220 660 214 657 210 654 C205 660 198 667 190 671 C184 674 176 675 171 676 C166 677 160 676 156 673 C160 668 163 662 160 657 C156 652 148 654 143 648 Z" fill="#f0c2c8"/>
  <!-- corpus callosum -->
  <path d="M144 643 C143.500 637 148 632.500 156 630.500 C167 628 180 628 192 630 C204 632 215 636.500 220.500 643 C224 647.500 225.500 652 224.500 655.500 C222 657.500 219 656 217.500 653 C215 647 208 642 199 639.500 C189 636.500 176 636 165 637.500 C158 638.500 153 641 152 645 C151.500 648 149 649.500 146.500 648 C145 647 144.200 645 144 643 Z" fill="#f9e6e7"/>
  <path d="M146 647.500 C148 651 153 651.500 157 653.500 C160 655 161.500 657.500 161 660" fill="none" stroke="#f9e6e7" stroke-width="2.600" stroke-linecap="round"/>
  <!-- thalamus -->
  <ellipse cx="184" cy="652" rx="12" ry="8" fill="#f2cacf"/>
  <ellipse cx="183.800" cy="651.300" rx="3.600" ry="2.600" fill="#fcf0f0"/>
  <path d="M150 676.500 L158 673.500 M163 681.500 C166 680 169 680.500 170 682.500" fill="none" stroke="#fbeaeb" stroke-width="2.200" stroke-linecap="round"/>
  <!-- hippocampus -->
  <path d="M199.500 642.500 C205 645 209 650.500 208.500 657 C208 664 203.500 669.500 198 672.500 C193 676 187 679.500 181 680.300 C176 681 172 679 171 675 C170.300 671 173 667.500 178 666.500 C186 665 194 664.500 198.500 660 C203 655.500 203.500 648 199.500 642.500 Z" fill="#9f3a4a"/>
  <path d="M173.500 669.500 C180 666.500 190 667 197 664.500 C197.500 668 195 672 190 675 C185 678 178 679.500 174.500 677.500 C172 675.500 171.800 672 173.500 669.500 Z" fill="#c4525f"/>
  <g stroke="#9f3a4a" stroke-width="0.9" fill="none"><path d="M180 668.500 L181.500 678 M186 667.500 L187.500 676 M192 666.500 L193 672.500"/></g>
</g>

<!-- ARROWS -->
<g id="arrows">
<!-- biopsy curved (tapered) -->
<path class="ah" d="M132.6 93.1 C163 105.4 185 131.6 192.4 156 L189.8 156.8 C182.8 133 162.4 107 132.5 93.5 Z"/>
<path class="ah" d="M185.8 156.9 L197.4 153.2 L193.9 166.2 Z"/>
<!-- reprogramming arrow -->
<path class="ah" d="M292 217.6 L354 216.2 L354 219 Z"/>
<path class="ah" d="M352.3 211.8 L364.6 217.6 L352.3 223.4 Z"/>
<!-- down arrow hiPSC -> NSC -->
<path class="ah" d="M419.8 289.5 L421.1 319 L418.5 319 Z"/>
<path class="ah" d="M413.6 318.2 L426 318.2 L419.8 330.4 Z"/>
<!-- differentiation -->
<path class="ah" d="M503.5 366.3 L599 364.9 L599 367.700 Z"/>
<path class="ah" d="M597.600 360.600 L609.800 366.300 L597.600 372 Z"/>
<!-- bracket -->
<path d="M816 152.300 L785.200 152.300 L785.200 556.200 L816 556.200 M785.200 368.900 L823 368.900" fill="none" stroke="#333333" stroke-width="3.300" stroke-linejoin="miter"/>
<path fill="#333333" d="M814 146.500 L826.200 152.300 L814 158.100 Z"/>
<path fill="#333333" d="M821 363.100 L833.200 368.900 L821 374.700 Z"/>
<path fill="#333333" d="M814 550.400 L826.200 556.200 L814 562 Z"/>
<!-- dotted -->
<path class="dot" d="M146.500 481.200 L415.800 481.200 L415.800 466"/>
<path class="ah" d="M410.200 465.600 L421.600 465.600 L415.900 453.400 Z"/>
<path class="dot" d="M198.500 665.100 L464.800 665.100 L464.800 466"/>
<path class="ah" d="M459.100 465.600 L470.500 465.600 L464.800 454.400 Z"/>
</g>
</g>
</svg>
</body>
</html>
